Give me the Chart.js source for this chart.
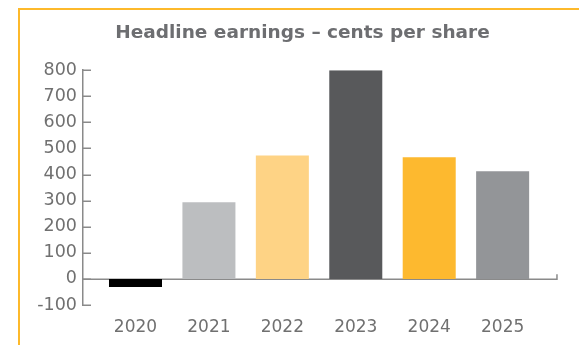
<!DOCTYPE html>
<html>
<head>
<meta charset="utf-8">
<script src="https://cdn.jsdelivr.net/npm/chart.js@4"></script>
<style>
  html, body { margin: 0; padding: 0; background: #fff; }
  #wrap { position: relative; width: 579px; height: 345px; overflow: hidden; }
  #frame {
    position: absolute; left: 18px; top: 8px; right: -10px; bottom: -10px;
    border-top: 2.5px solid #fdb92b; border-left: 2.5px solid #fdb92b;
  }
  canvas { position: absolute; left: 0; top: 0; }
</style>
</head>
<body>
<div id="wrap">
  <div id="frame"></div>
  <canvas id="c" width="579" height="345"></canvas>
</div>
<script>
// Headline earnings per share, cents
const years = ['2020', '2021', '2022', '2023', '2024', '2025'];
const heps = [-31, 294, 473, 800, 466, 413];
const barColors = ['#000000', '#bcbec0', '#fed385', '#58595b', '#fdb92f', '#939598'];
const yTicks = [-100, 0, 100, 200, 300, 400, 500, 600, 700, 800];

const axisGrey = '#8a8a8a';
const textGrey = '#707070';
const xAxisEnd = 5.74; // where the baseline stops on the index axis

// Axis lines: zero baseline with end tick, and inward ticks on the value axis
const axesPlugin = {
  id: 'axesPlugin',
  beforeDatasetsDraw(chart) {
    const { ctx, chartArea, scales } = chart;
    const y = scales.y;
    const x = scales.x;
    ctx.save();
    ctx.strokeStyle = axisGrey;
    ctx.lineWidth = 1.5;
    y.ticks.forEach(t => {
      const py = Math.round(y.getPixelForValue(t.value)) + 0.25;
      ctx.beginPath();
      ctx.moveTo(chartArea.left, py);
      ctx.lineTo(chartArea.left + 8, py);
      ctx.stroke();
    });
    const zy = Math.round(y.getPixelForValue(0)) + 0.25;
    const xEnd = x.getPixelForValue(xAxisEnd);
    ctx.beginPath();
    ctx.moveTo(chartArea.left, zy);
    ctx.lineTo(xEnd, zy);
    ctx.lineTo(xEnd, zy - 5);
    ctx.stroke();
    ctx.restore();
  }
};

new Chart(document.getElementById('c'), {
  type: 'bar',
  data: {
    datasets: [{
      data: heps.map((v, i) => ({ x: i, y: v })),
      backgroundColor: barColors,
      borderWidth: 0,
      categoryPercentage: 1,
      barPercentage: 0.722
    }]
  },
  options: {
    responsive: false,
    animation: false,
    layout: { padding: { left: 26, right: 0, top: 0, bottom: 0 } },
    plugins: {
      legend: { display: false },
      tooltip: { enabled: false },
      title: {
        display: true,
        text: 'Headline earnings – cents per share',
        color: '#6d6e71',
        font: { family: 'DejaVu Sans', size: 18.5, weight: 'bold' },
        padding: { top: 22, bottom: 26 }
      }
    },
    scales: {
      x: {
        type: 'linear',
        offset: false,
        min: -0.715,
        max: 6.04,
        afterBuildTicks(scale) { scale.ticks = years.map((_, i) => ({ value: i })); },
        grid: { display: false, drawTicks: false, offset: false },
        border: { display: false },
        ticks: {
          autoSkip: false,
          maxRotation: 0,
          padding: 12,
          color: textGrey,
          font: { family: 'DejaVu Sans', size: 17 },
          callback: v => years[v]
        },
        afterFit(scale) { scale.height = 40; }
      },
      y: {
        min: -100,
        max: 800,
        afterBuildTicks(scale) { scale.ticks = yTicks.map(v => ({ value: v })); },
        grid: { display: false, drawTicks: false },
        border: { display: true, color: axisGrey, width: 1.5 },
        ticks: {
          padding: 6,
          color: textGrey,
          font: { family: 'DejaVu Sans', size: 17.5 }
        },
        afterFit(scale) { scale.width = 57; }
      }
    }
  },
  plugins: [axesPlugin]
});
</script>
</body>
</html>
